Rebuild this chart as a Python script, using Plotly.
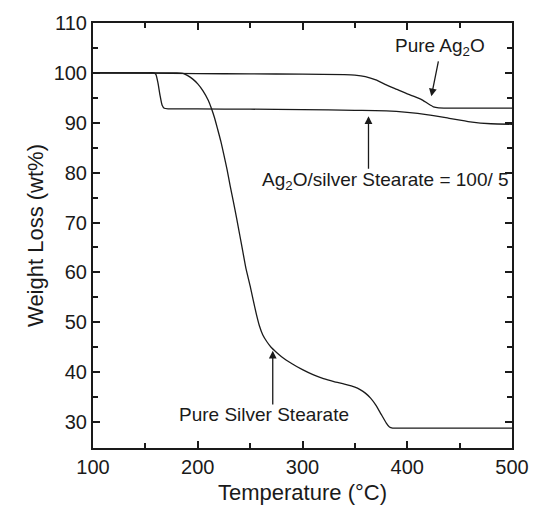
import plotly.graph_objects as go

# Pure Ag2O
t_ag2o = [100, 150, 200, 250, 300, 340, 350, 360, 370, 380, 390, 400, 410, 415, 420, 425, 430, 450, 500]
w_ag2o = [100, 99.95, 99.85, 99.8, 99.75, 99.65, 99.55, 99.25, 98.6, 97.6, 96.7, 95.8, 95.0, 94.5, 93.8, 93.2, 93.0, 92.95, 92.95]

# Ag2O / silver stearate = 100/5
t_comp = [100, 150, 158, 160, 162, 164, 166, 168, 172, 200, 250, 300, 350, 380, 400, 420, 440, 460, 480, 500]
w_comp = [100, 100, 100, 99.7, 98.0, 95.5, 93.5, 92.9, 92.8, 92.78, 92.72, 92.65, 92.5, 92.4, 92.1, 91.6, 90.9, 90.2, 89.8, 89.7]

# Pure silver stearate
t_st = [100, 150, 180, 186, 190, 195, 200, 205, 210, 213, 216, 219, 222, 225, 228, 231, 234, 237, 240,
        243, 246, 250, 253, 256, 259, 262, 266, 270, 275, 280, 290, 300, 310, 320, 330, 340, 350, 355,
        360, 365, 370, 375, 380, 383, 386, 400, 450, 500]
w_st = [100, 100, 100, 99.9, 99.5, 98.8, 97.8, 96.4, 94.5, 92.9, 91.0, 88.7, 86.3, 83.5, 80.6, 77.3, 74.2, 71.0, 67.6,
        64.2, 60.8, 57.3, 54.4, 51.6, 49.2, 47.5, 46.1, 45.0, 44.0, 43.1, 41.7, 40.5, 39.5, 38.7, 38.1, 37.6, 37.0, 36.5,
        35.8, 34.8, 33.4, 31.6, 29.8, 29.0, 28.8, 28.8, 28.8, 28.8]

x_ticks = [100, 200, 300, 400, 500]
y_ticks = [30, 40, 50, 60, 70, 80, 90, 100, 110]

FONT = "Arial, Liberation Sans, sans-serif"
line = dict(color="#1a1a1a", width=1.3, shape="spline", smoothing=0.5)

fig = go.Figure()
for t, w in [(t_ag2o, w_ag2o), (t_comp, w_comp), (t_st, w_st)]:
    fig.add_trace(go.Scatter(x=t, y=w, mode="lines", line=line, showlegend=False, hoverinfo="skip"))

axis_common = dict(
    showline=True, linecolor="#1a1a1a", linewidth=2, mirror="allticks",
    ticks="inside", ticklen=7, tickwidth=1.5, tickcolor="#1a1a1a",
    showgrid=False, zeroline=False,
    tickfont=dict(family=FONT, size=20, color="#1a1a1a"),
)

fig.update_xaxes(range=[100, 500], tickvals=x_ticks,
                 minor=dict(ticks="inside", dtick=50, tick0=100, ticklen=5, tickwidth=1.5, tickcolor="#1a1a1a", showgrid=False),
                 title=dict(text="Temperature (°C)", font=dict(family=FONT, size=22, color="#1a1a1a"), standoff=8),
                 **axis_common)
fig.update_yaxes(range=[24.8, 110], tickvals=y_ticks,
                 minor=dict(ticks="inside", dtick=5, tick0=25, ticklen=5, tickwidth=1.5, tickcolor="#1a1a1a", showgrid=False),
                 title=dict(text="Weight Loss (wt%)", font=dict(family=FONT, size=22, color="#1a1a1a"), standoff=4),
                 **axis_common)

afont = dict(family=FONT, size=19, color="#1a1a1a")
arrow = dict(text="", showarrow=True, axref="x", ayref="y",
             arrowhead=2, arrowsize=1.2, arrowwidth=1.3, arrowcolor="#1a1a1a")
ann = [
    dict(x=431, y=105.2, text="Pure Ag<sub>2</sub>O", showarrow=False, font=afont),
    dict(x=378.8, y=78.4, text="Ag<sub>2</sub>O/silver Stearate = 100/ 5", showarrow=False, font=afont),
    dict(x=263, y=31.6, text="Pure Silver Stearate", showarrow=False, font=afont),
    dict(x=423.0, y=95.3, ax=430.0, ay=102.6, **arrow),
    dict(x=363, y=91.3, ax=363, ay=80.5, **arrow),
    dict(x=271.6, y=44.3, ax=271.6, ay=33.2, **arrow),
]
fig.update_layout(
    width=541, height=513,
    margin=dict(l=93, r=19, t=20, b=65),
    plot_bgcolor="white", paper_bgcolor="white",
    annotations=ann,
)
fig.write_html("out.html")
